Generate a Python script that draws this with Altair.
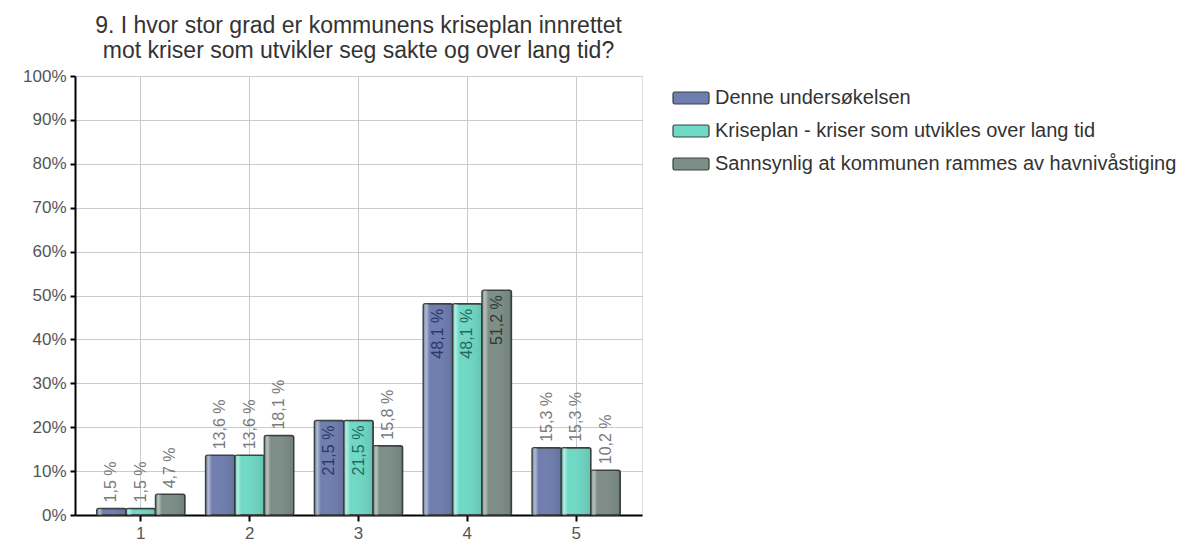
import altair as alt
import pandas as pd

categories = ["1", "2", "3", "4", "5"]
series = [
    "Denne undersøkelsen",
    "Kriseplan - kriser som utvikles over lang tid",
    "Sannsynlig at kommunen rammes av havnivåstiging",
]
denne = [1.5, 13.6, 21.5, 48.1, 15.3]
kriseplan = [1.5, 13.6, 21.5, 48.1, 15.3]
sannsynlig = [4.7, 18.1, 15.8, 51.2, 10.2]

rows = []
for name, vals in zip(series, [denne, kriseplan, sannsynlig]):
    for cat, v in zip(categories, vals):
        rows.append({"kategori": cat, "serie": name, "verdi": v,
                     "tekst": f"{v:.1f} %".replace(".", ",")})
df = pd.DataFrame(rows)

bar_colors = ["#6f7eb0", "#6fd9c6", "#7d8e87"]
inner_text_colors = ["#2c3868", "#23695f", "#2f3a36"]
FONT = "Liberation Sans"

x_enc = alt.X("kategori:N", sort=categories,
              scale=alt.Scale(paddingInner=0.19, paddingOuter=0.2),
              axis=alt.Axis(title=None, labelAngle=0, labelFontSize=17,
                            labelColor="#555555", labelFont=FONT,
                            domainColor="#000000", domainWidth=2,
                            tickColor="#000000", tickSize=6, tickWidth=2,
                            labelPadding=4, grid=True, gridColor="#c9cccf",
                            gridWidth=1))
y_enc = alt.Y("verdi:Q", scale=alt.Scale(domain=[0, 100]),
              axis=alt.Axis(title=None, values=list(range(0, 101, 10)),
                            labelExpr="datum.value + '%'", labelFontSize=17,
                            labelColor="#555555", labelFont=FONT,
                            domainColor="#000000", domainWidth=2,
                            tickColor="#000000", tickSize=5, tickWidth=2,
                            labelPadding=4, grid=True, gridColor="#c9cccf",
                            gridWidth=1))
xoff = alt.XOffset("serie:N", sort=series, scale=alt.Scale(domain=series))

# wide rounded swatch, drawn 1.5x wider than the nominal symbol box
legend_symbol = ("M-1.35,-0.5 H1.35 Q1.5,-0.5 1.5,-0.35 V0.35 Q1.5,0.5 1.35,0.5 "
                 "H-1.35 Q-1.5,0.5 -1.5,0.35 V-0.35 Q-1.5,-0.5 -1.35,-0.5 Z")

bars = alt.Chart(df).mark_bar(stroke="#3a4240", strokeWidth=1.5,
                              cornerRadius=2).encode(
    x=x_enc, y=y_enc, xOffset=xoff,
    color=alt.Color("serie:N", sort=series,
                    scale=alt.Scale(domain=series, range=bar_colors),
                    legend=alt.Legend(
                        title=None, orient="none", legendX=603, legendY=9,
                        labelFontSize=20, labelFont=FONT, labelColor="#333333",
                        symbolType=legend_symbol,
                        symbolSize=576, symbolStrokeColor="#3a4240",
                        symbolStrokeWidth=1.2, symbolOpacity=1,
                        rowPadding=10, labelOffset=11, labelLimit=600)),
)

# bevel: light band near the left edge, slight shade toward the right
bevel = alt.Gradient(
    gradient="linear", x1=0, x2=1, y1=0, y2=0,
    stops=[alt.GradientStop(offset=0, color="rgba(255,255,255,0.05)"),
           alt.GradientStop(offset=0.1, color="rgba(255,255,255,0.45)"),
           alt.GradientStop(offset=0.22, color="rgba(255,255,255,0.0)"),
           alt.GradientStop(offset=1, color="rgba(0,0,0,0.10)")])
shine = alt.Chart(df).mark_bar(color=bevel, cornerRadius=2).encode(
    x=x_enc, y=y_enc, xOffset=xoff,
)

outside = alt.Chart(df).transform_filter("datum.verdi < 20").mark_text(
    angle=270, align="left", baseline="middle", dx=6, fontSize=16,
    font=FONT, color="#7a7a7a").encode(
    x=x_enc, y=y_enc, xOffset=xoff, text="tekst:N")

inside = alt.Chart(df).transform_filter("datum.verdi >= 20").mark_text(
    angle=270, align="right", baseline="middle", dx=-5, fontSize=16,
    font=FONT).encode(
    x=x_enc, y=y_enc, xOffset=xoff, text="tekst:N",
    color=alt.Color("serie:N", scale=alt.Scale(domain=series,
                                              range=inner_text_colors),
                    legend=None))

chart = alt.layer(bars, shine, outside, inside).resolve_scale(
    color="independent"
).properties(
    width=567, height=439,
    title=alt.TitleParams(
        ["9. I hvor stor grad er kommunens kriseplan innrettet",
         "mot kriser som utvikler seg sakte og over lang tid?"],
        anchor="middle", frame="group", fontSize=23, font=FONT,
        fontWeight="normal", color="#333333", lineHeight=25, offset=4),
    autosize=alt.AutoSizeParams(type="none"),
    padding={"left": 75, "top": 76, "right": 552, "bottom": 30},
).configure_view(
    fill="#e8eaed", stroke="#8f8f8f", strokeWidth=1.5
).configure(background="#ffffff")

chart.save("out.html", embed_options={"renderer": "svg", "actions": False})
